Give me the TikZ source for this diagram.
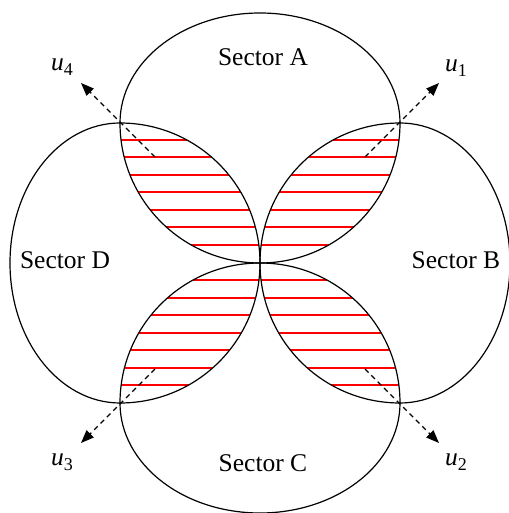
\documentclass[tikz,border=0pt]{standalone}
\usepackage{fontspec}
\setmainfont{Liberation Serif}
\usetikzlibrary{arrows.meta}
\newcommand{\uvec}[1]{\textit{u}\raisebox{-0.2em}{\fontsize{18}{18}\selectfont #1}}

\begin{document}
\begin{tikzpicture}[x=1pt, y=1pt,
    sec/.style={line width=1.2pt, black},
    hatch/.style={red, line width=1.9pt},
    dir/.style={line width=1.2pt, dash pattern=on 5pt off 4pt,
                -{Triangle[length=13pt, width=10pt]}},
    lab/.style={font=\fontsize{25.5}{30}\selectfont, inner sep=0pt}]
  \useasboundingbox (-260,-250) rectangle (248,263);
  \coordinate (O) at (0,0);
  \coordinate (cA) at (0,140);
  \coordinate (cB) at (140,0);
  \coordinate (cC) at (0,-140);
  \coordinate (cD) at (-140,0);
  \foreach \p/\q in {A/B, B/C, C/D, D/A}{
    \begin{scope}
      \clip (c\p) circle (140);
      \clip (c\q) circle (140);
      \foreach \y in {123,106,88,71,53,36,18,
                      -17,-35,-52,-70,-87,-105,-122}
        \draw[hatch] (-150,\y) -- (150,\y);
    \end{scope}
  }
  \foreach \r in {0,-90,180,90}
    \draw[sec, rotate=\r] (-140,140) arc[start angle=180, end angle=360, radius=140]
      arc[start angle=0, end angle=180, x radius=140, y radius=110] -- cycle;
  \coordinate (t1) at (105,106);
  \coordinate (h1) at (179,180);
  \coordinate (t2) at (105,-106);
  \coordinate (h2) at (179,-180);
  \coordinate (t3) at (-105,-106);
  \coordinate (h3) at (-179,-180);
  \coordinate (t4) at (-105,106);
  \coordinate (h4) at (-179,180);
  \foreach \i in {1,...,4}
    \draw[dir] (t\i) -- (h\i);
  \node[lab] (u1) at (196,195)   {\uvec{1}};
  \node[lab] (u2) at (196,-199)  {\uvec{2}};
  \node[lab] (u3) at (-198,-199) {\uvec{3}};
  \node[lab] (u4) at (-198,196)  {\uvec{4}};
  \node[lab] (secA) at (3,206)    {Sector A};
  \node[lab] (secB) at (196,3)    {Sector B};
  \node[lab] (secC) at (3,-200)   {Sector C};
  \node[lab] (secD) at (-195,3)   {Sector D};
\end{tikzpicture}
\end{document}
